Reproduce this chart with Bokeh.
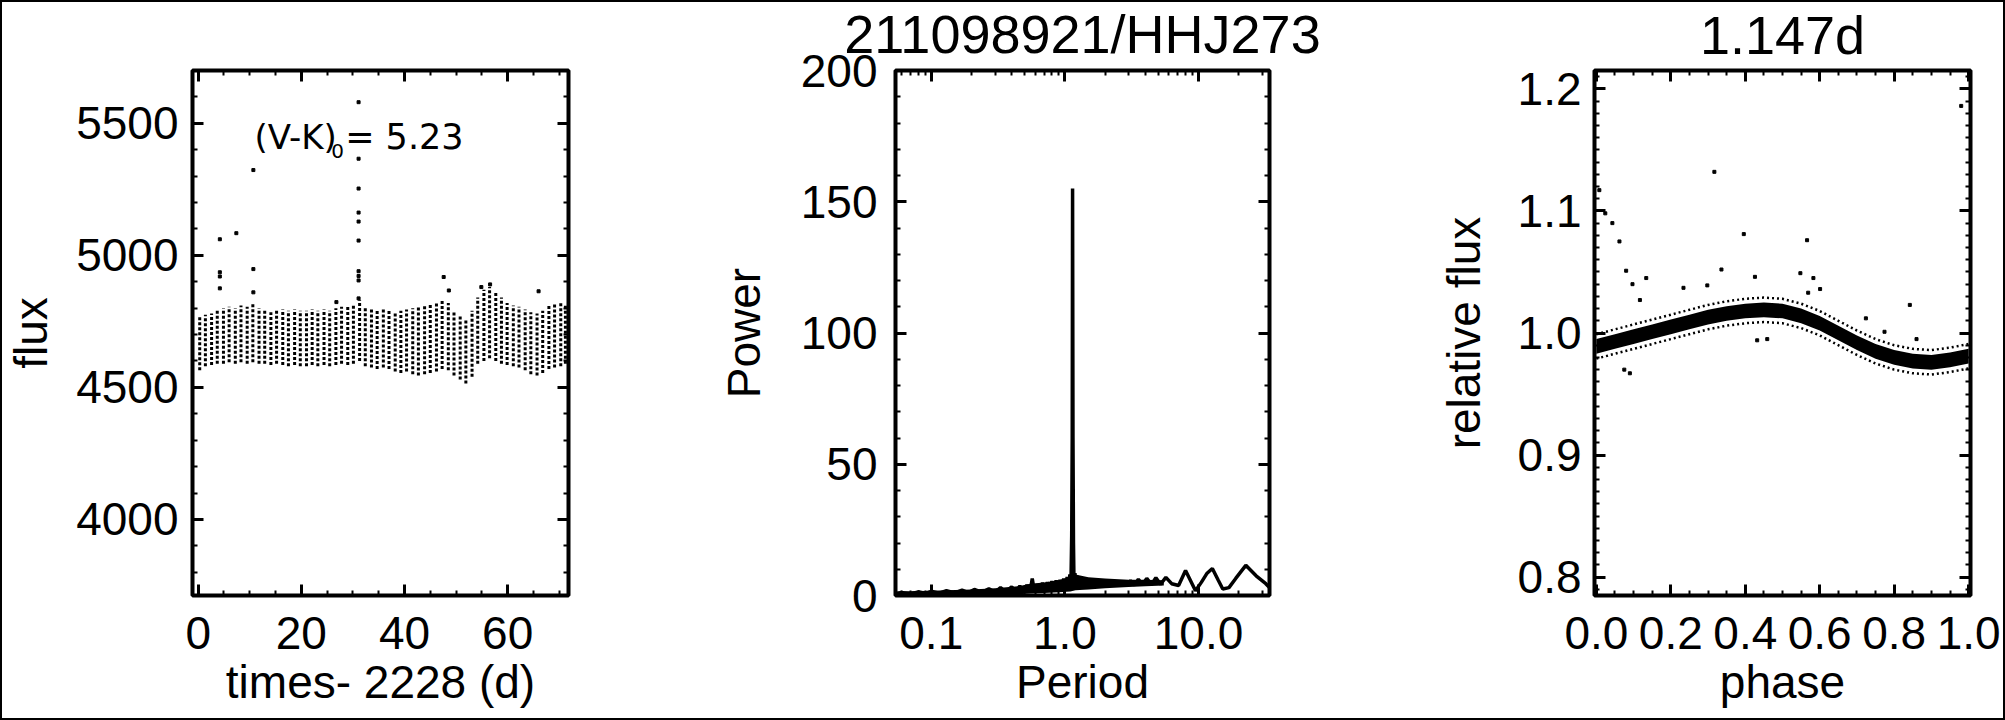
from bokeh.plotting import figure
from bokeh.models import (Range1d, LinearAxis, LogAxis, SingleIntervalTicker,
                          FixedTicker, Label, NumeralTickFormatter, CustomLabelingPolicy)
from bokeh.layouts import row
from bokeh.embed import file_html
from bokeh.resources import INLINE

FONT = "Liberation Sans"
TICK_PX = "46px"
LABEL_PX = "46px"
TITLE_PX = "54px"

# ---------------- Panel 1: light curve (columns = one rotation each) ----------------
col_t = [0.3, 1.4, 2.6, 3.7, 4.9, 6.0, 7.2, 8.3, 9.5, 10.6, 11.8, 12.9, 14.1, 15.2, 16.4,
         17.5, 18.7, 19.8, 21.0, 22.1, 23.2, 24.4, 25.5, 26.7, 27.8, 29.0, 30.1, 31.3,
         32.4, 33.6, 34.7, 35.9, 37.0, 38.2, 39.3, 40.4, 41.6, 42.7, 43.9, 45.0, 46.2,
         47.3, 48.5, 49.6, 50.8, 51.9, 53.1, 54.2, 55.4, 56.5, 57.7, 58.8, 59.9, 61.1,
         62.2, 63.4, 64.5, 65.7, 66.8, 68.0, 69.1, 70.3, 71.2]
col_lo = [4565, 4580, 4585, 4590, 4590, 4595, 4590, 4595, 4590, 4595, 4590, 4590, 4585,
          4590, 4585, 4580, 4585, 4580, 4580, 4585, 4580, 4585, 4580, 4585, 4590, 4585,
          4590, 4600, 4580, 4575, 4570, 4575, 4570, 4560, 4555, 4560, 4550, 4545, 4550,
          4555, 4560, 4570, 4565, 4545, 4530, 4515, 4540, 4590, 4600, 4610, 4600, 4590,
          4585, 4580, 4575, 4565, 4550, 4545, 4555, 4570, 4575, 4580, 4590]
col_hi = [4770, 4775, 4780, 4790, 4800, 4805, 4800, 4810, 4805, 4815, 4800, 4790, 4785,
          4790, 4795, 4790, 4795, 4790, 4790, 4795, 4790, 4795, 4790, 4800, 4805, 4810,
          4815, 4830, 4800, 4795, 4790, 4795, 4790, 4785, 4790, 4795, 4800, 4810, 4815,
          4820, 4825, 4830, 4820, 4790, 4770, 4760, 4790, 4840, 4870, 4880, 4860, 4840,
          4820, 4810, 4805, 4795, 4785, 4780, 4790, 4810, 4820, 4825, 4815]
out_t = [4.2, 4.2, 4.2, 4.2, 7.4, 10.7, 10.7, 10.7, 26.8, 31.1, 31.1, 31.1, 31.1, 31.1,
         31.1, 31.1, 31.1, 31.1, 31.1, 47.6, 48.6, 54.9, 56.6, 66.0]
out_flux = [5061, 4936, 4920, 4875, 5084, 5323, 4948, 4860, 4823, 5580, 5366, 5253, 5162,
            5128, 5056, 4940, 4922, 4905, 4837, 4918, 4867, 4880, 4890, 4864]

# ---------------- Panel 2: periodogram ----------------
period = [0.053, 0.06, 0.07, 0.08, 0.09, 0.10, 0.115, 0.13, 0.15, 0.17, 0.19, 0.21, 0.24,
          0.27, 0.30, 0.33, 0.36, 0.40, 0.43, 0.46, 0.49, 0.52, 0.55, 0.57, 0.59, 0.62,
          0.65, 0.68, 0.71, 0.74, 0.77, 0.80, 0.83, 0.86, 0.89, 0.92, 0.95, 0.98, 1.01,
          1.04, 1.07, 1.09, 1.11, 1.125, 1.135, 1.142, 1.150, 1.16, 1.17, 1.19, 1.21,
          1.24, 1.27, 1.31, 1.35, 1.40, 1.45, 1.50, 1.56, 1.62, 1.69, 1.76, 1.84, 1.93,
          2.03, 2.14, 2.27, 2.40, 2.55, 2.72, 2.90, 3.10, 3.33, 3.55, 3.80, 4.10, 4.45,
          4.80, 5.20, 5.70, 6.30, 7.1, 8.0, 9.5, 10.5, 11.6, 12.7, 14.0, 15.2, 16.9, 19.0,
          22.6, 27.0, 31.9, 34.0]
power = [0.5, 1.2, 0.6, 1.4, 0.8, 1.6, 0.9, 1.8, 1.0, 2.0, 1.1, 2.3, 1.2, 2.6, 1.3, 3.0,
         1.4, 3.3, 1.5, 3.6, 1.6, 4.0, 1.7, 6.5, 1.8, 4.2, 2.0, 4.8, 2.0, 5.0, 2.2, 5.5,
         2.3, 5.8, 2.4, 6.0, 2.5, 6.5, 2.6, 7.0, 3.0, 8.0, 4.0, 23.0, 60.0, 155.0, 60.0,
         20.0, 5.0, 8.5, 2.5, 7.5, 2.5, 7.0, 2.8, 6.8, 3.0, 6.5, 3.2, 6.2, 3.2, 6.0, 3.4,
         5.8, 3.5, 5.6, 3.6, 5.5, 3.8, 5.4, 4.0, 5.6, 4.0, 6.2, 4.2, 6.5, 4.2, 6.8, 4.3,
         6.9, 4.5, 3.8, 9.5, 1.8, 5.0, 8.5, 10.3, 6.0, 2.5, 3.0, 6.5, 11.5, 7.5, 4.5, 3.0]
# dense noise band of the periodogram (lower / upper envelope)
env_p = [0.054, 0.1, 0.2, 0.3, 0.45, 0.55, 0.7, 0.9, 1.1, 1.2, 1.5, 2.0, 3.0, 4.0, 5.5]
env_lo = [0.0, 0.0, 0.2, 0.3, 0.5, 0.8, 1.0, 1.2, 1.5, 2.0, 2.3, 2.8, 3.2, 3.5, 3.8]
env_hi = [1.5, 1.8, 2.3, 2.8, 3.5, 4.5, 5.0, 5.8, 7.0, 8.0, 7.0, 6.5, 6.0, 6.0, 5.8]

# ---------------- Panel 3: phased light curve ----------------
ph_grid = [0.00, 0.05, 0.10, 0.15, 0.20, 0.25, 0.30, 0.35, 0.40, 0.45, 0.50, 0.55, 0.60,
           0.65, 0.70, 0.75, 0.80, 0.85, 0.90, 0.95, 1.00]
band_lo = [0.983, 0.987, 0.991, 0.995, 0.999, 1.003, 1.007, 1.010, 1.012, 1.013, 1.012,
           1.008, 1.002, 0.994, 0.986, 0.979, 0.974, 0.971, 0.970, 0.972, 0.975]
band_hi = [0.995, 0.999, 1.003, 1.007, 1.011, 1.015, 1.019, 1.022, 1.024, 1.025, 1.024,
           1.020, 1.014, 1.006, 0.998, 0.991, 0.986, 0.983, 0.982, 0.984, 0.987]
fuzz_hi = [0.999, 1.003, 1.007, 1.011, 1.015, 1.019, 1.023, 1.026, 1.028, 1.029, 1.028,
           1.024, 1.018, 1.010, 1.002, 0.995, 0.990, 0.987, 0.986, 0.988, 0.991]
fuzz_lo = [0.979, 0.983, 0.987, 0.991, 0.995, 0.999, 1.003, 1.006, 1.008, 1.009, 1.008,
           1.004, 0.998, 0.990, 0.982, 0.975, 0.970, 0.967, 0.966, 0.968, 0.971]
ph_out = [0.980, 0.317, 0.008, 0.024, 0.043, 0.062, 0.396, 0.566, 0.080, 0.134, 0.097,
          0.336, 0.426, 0.548, 0.583, 0.601, 0.569, 0.298, 0.234, 0.117, 0.842, 0.724,
          0.774, 0.860, 0.432, 0.459, 0.075, 0.090]
rf_out = [1.186, 1.132, 1.117, 1.098, 1.090, 1.075, 1.081, 1.076, 1.051, 1.045, 1.040,
          1.052, 1.046, 1.049, 1.045, 1.036, 1.033, 1.039, 1.037, 1.027, 1.023, 1.012,
          1.001, 0.995, 0.994, 0.995, 0.970, 0.967]

titles = ["211098921/HHJ273", "1.147d"]

LOG_MINOR = [m * 10.0 ** e for e in (-2, -1, 0, 1) for m in range(2, 10)]


def tick_style(ax, show):
    ax.axis_line_color = None
    ax.major_tick_in = 11
    ax.major_tick_out = 0
    ax.minor_tick_in = 5
    ax.minor_tick_out = 0
    ax.major_tick_line_width = 3
    ax.minor_tick_line_width = 2
    ax.major_tick_line_color = "black"
    ax.minor_tick_line_color = "black"
    if show:
        ax.major_label_text_font = FONT
        ax.major_label_text_font_size = TICK_PX
        ax.major_label_text_color = "black"
        ax.axis_label_text_font = FONT
        ax.axis_label_text_font_size = LABEL_PX
        ax.axis_label_text_font_style = "normal"
        ax.axis_label_text_color = "black"
    else:
        ax.major_label_text_font_size = "2px"
        ax.major_label_standoff = 0
        ax.major_label_policy = CustomLabelingPolicy(code="return []")
        ax.axis_label = None


def make_fig(w, xr, yr, bl, br, xtype="linear"):
    p = figure(width=w, height=720, x_range=xr, y_range=yr, x_axis_type=xtype,
               output_backend="svg", toolbar_location=None,
               min_border_left=bl, min_border_right=br, min_border_top=70,
               min_border_bottom=125)
    p.grid.visible = False
    p.outline_line_color = "black"
    p.outline_line_width = 4
    p.outline_line_alpha = 1.0
    p.background_fill_color = "white"
    p.border_fill_color = None
    return p


def finish_axes(p, xtick_fn, ytick_fn, xlabel, ylabel, ystand, ylab_stand,
                axis_cls=LinearAxis, xfmt=None, yfmt=None, title=None):
    xb = p.xaxis[0]
    yl = p.yaxis[0]
    xb.ticker = xtick_fn()
    yl.ticker = ytick_fn()
    if xfmt is not None:
        xb.formatter = xfmt
    if yfmt is not None:
        yl.formatter = yfmt
    xb.axis_label = xlabel
    yl.axis_label = ylabel
    tick_style(xb, True)
    tick_style(yl, True)
    xb.major_label_standoff = 21
    xb.axis_label_standoff = 4
    yl.major_label_standoff = ystand
    yl.axis_label_standoff = ylab_stand
    top = axis_cls(ticker=xtick_fn())
    tick_style(top, False)
    if title is not None:
        # the panel title sits on the (label-less) top axis
        top.axis_label = title
        top.axis_label_text_font = FONT
        top.axis_label_text_font_size = TITLE_PX
        top.axis_label_text_font_style = "normal"
        top.axis_label_text_color = "black"
        top.axis_label_standoff = 2
    p.add_layout(top, "above")
    right = LinearAxis(ticker=ytick_fn())
    tick_style(right, False)
    p.add_layout(right, "right")


# ---- Panel 1
p1 = make_fig(640, Range1d(-1.1, 71.8), Range1d(3712, 5700), 192, 72)
p1.segment(x0=col_t, y0=col_lo, x1=col_t, y1=col_hi, line_width=3,
           line_dash="3 2", line_color="black")
p1.scatter(x=out_t, y=out_flux, marker="square", size=3, color="black")
finish_axes(p1, lambda: SingleIntervalTicker(interval=20, num_minor_ticks=4),
            lambda: SingleIntervalTicker(interval=500, num_minor_ticks=5),
            "times- 2228 (d)", "flux", 14, 16)
p1.add_layout(Label(x=10.9, y=5447, text="(V-K)", text_font="DejaVu Sans",
                    text_font_size="34px", text_color="black", text_baseline="middle"))
p1.add_layout(Label(x=25.8, y=5394, text="0", text_font="DejaVu Sans",
                    text_font_size="20px", text_color="black", text_baseline="middle"))
p1.add_layout(Label(x=28.5, y=5447, text="= 5.23", text_font="DejaVu Sans",
                    text_font_size="35px", text_color="black", text_baseline="middle"))

# ---- Panel 2 (wider right border so the long title is not clipped)
p2 = make_fig(710, Range1d(0.054, 34), Range1d(0, 200), 255, 81, xtype="log")
p2.varea(x=env_p, y1=env_lo, y2=env_hi, fill_color="black")
p2.line(x=period, y=power, line_width=3.5, line_color="black")
finish_axes(p2, lambda: FixedTicker(ticks=[0.1, 1.0, 10.0], minor_ticks=LOG_MINOR),
            lambda: SingleIntervalTicker(interval=50, num_minor_ticks=5),
            "Period", "Power", 18, 28, axis_cls=LogAxis,
            xfmt=NumeralTickFormatter(format="0.0"), title=titles[0])

# ---- Panel 3
p3 = make_fig(655, Range1d(-0.005, 1.005), Range1d(0.785, 1.215), 244, 35)
p3.varea(x=ph_grid, y1=band_lo, y2=band_hi, fill_color="black")
p3.line(x=ph_grid, y=fuzz_hi, line_width=2.5, line_dash="2 3", line_color="black")
p3.line(x=ph_grid, y=fuzz_lo, line_width=2.5, line_dash="2 3", line_color="black")
p3.scatter(x=ph_out, y=rf_out, marker="square", size=3, color="black")
finish_axes(p3, lambda: SingleIntervalTicker(interval=0.2, num_minor_ticks=4),
            lambda: SingleIntervalTicker(interval=0.1, num_minor_ticks=10),
            "phase", "relative flux", 13, 25,
            xfmt=NumeralTickFormatter(format="0.0"), yfmt=NumeralTickFormatter(format="0.0"),
            title=titles[1])

layout = row(p1, p2, p3, spacing=0,
             styles={"box-shadow": "inset 0 0 0 2px black", "background": "white"})

open("out.html", "w").write(file_html(layout, INLINE))
